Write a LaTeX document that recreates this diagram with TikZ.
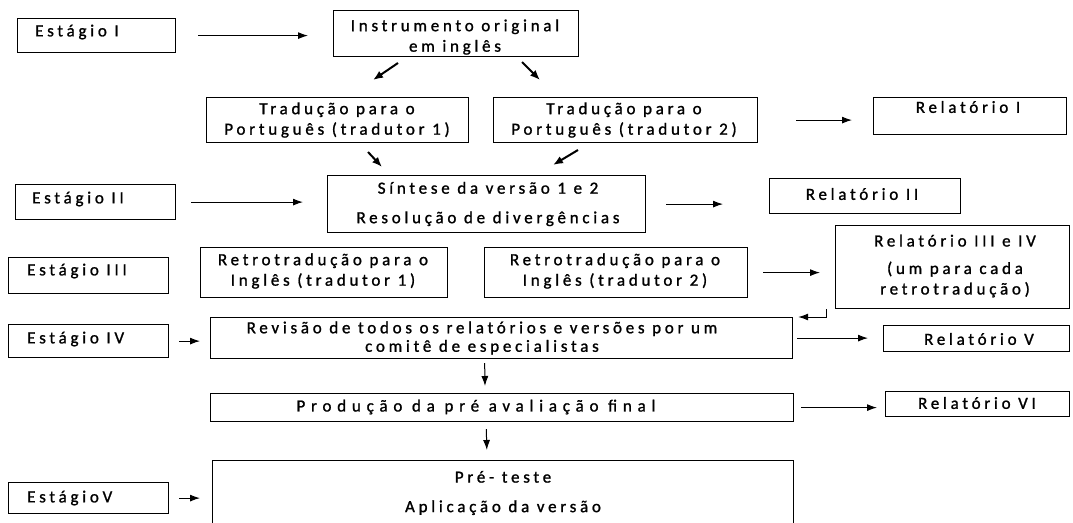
\documentclass[tikz,border=0pt]{standalone}
\usepackage{fontspec}
\setmainfont{Carlito}[LetterSpace=22,FakeBold=1.2]
\usetikzlibrary{arrows.meta}
\begin{document}
\begin{tikzpicture}[x=1pt,y=-1pt,
  box/.style={draw, line width=1.2pt, inner sep=0pt, anchor=north west},
  txt/.style={inner sep=0pt, font=\fontsize{17}{20.5}\selectfont, align=center},
  stg/.style={txt, anchor=west},
  arr/.style={-{Latex[length=10pt,width=7pt]}, line width=1pt},
  darr/.style={-{Latex[length=10pt,width=8pt]}, line width=2pt}]
\clip (0,0) rectangle (1073,522);
% boxes
\node[box, minimum width=158pt, minimum height=34pt] (s1) at (17,18) {};
\node[box, minimum width=245pt, minimum height=46pt] (inst) at (333,10) {};
\node[box, minimum width=262pt, minimum height=45pt] (t1) at (206,97) {};
\node[box, minimum width=264pt, minimum height=45pt] (t2) at (493,97) {};
\node[box, minimum width=193pt, minimum height=37pt] (r1) at (873,97) {};
\node[box, minimum width=160pt, minimum height=35pt] (s2) at (15,184) {};
\node[box, minimum width=318pt, minimum height=57pt] (sin) at (327,175) {};
\node[box, minimum width=191pt, minimum height=35pt] (r2) at (769,178) {};
\node[box, minimum width=160pt, minimum height=36pt] (s3) at (8,257) {};
\node[box, minimum width=247pt, minimum height=50pt] (b1) at (200,247) {};
\node[box, minimum width=263pt, minimum height=50pt] (b2) at (484,247) {};
\node[box, minimum width=234pt, minimum height=83pt] (r34) at (835,225) {};
\node[box, minimum width=160pt, minimum height=33pt] (s4) at (8,324) {};
\node[box, minimum width=582pt, minimum height=41pt] (rev) at (210,317) {};
\node[box, minimum width=186pt, minimum height=26pt] (r5) at (883,325) {};
\node[box, minimum width=583pt, minimum height=28pt] (prod) at (210,393) {};
\node[box, minimum width=184pt, minimum height=25pt] (r6) at (885,391) {};
\node[box, minimum width=581pt, minimum height=70pt] (pre) at (212,460) {};
\node[box, minimum width=160pt, minimum height=31pt] (s5) at (8,482) {};
% texts
\node[stg] (s1t) at (35,32) {Estágio I};
\node[txt] (instt) at (455,37) {Instrumento original\\em inglês};
\node[txt] (t1t) at (337,120) {Tradução para o\\Português (tradutor 1)};
\node[txt] (t2t) at (624,120) {Tradução para o\\Português (tradutor 2)};
\node[txt] (r1t) at (968,107) {Relatório I};
\node[stg] (s2t) at (32,199) {Estágio II};
\node[txt] (sint) at (488,204) {Síntese da versão 1 e 2\\[9pt]Resolução de divergências};
\node[txt] (r2t) at (862,194) {Relatório II};
\node[stg] (s3t) at (27,271) {Estágio III};
\node[txt] (b1t) at (323,271) {Retrotradução para o\\Inglês (tradutor 1)};
\node[txt] (b2t) at (615,271) {Retrotradução para o\\Inglês (tradutor 2)};
\node[txt] (r34t) at (955,266) {Relatório III e IV\\[7pt](um para cada\\retrotradução)};
\node[stg] (s4t) at (27,339) {Estágio IV};
\node[txt] (revt) at (482,338) {Revisão de todos os relatórios e versões por um\\[-2pt]comitê de especialistas};
\node[txt] (r5t) at (979,339) {Relatório V};
\node[txt, font=\fontsize{17}{20.5}\selectfont\addfontfeatures{LetterSpace=34}] (prodt) at (476,407) {Produção da pré avaliação final};
\node[txt] (r6t) at (977,403) {Relatório VI};
\node[stg] (s5t) at (27,498) {EstágioV};
\node[txt] (pret) at (503,493) {Pré- teste\\[9pt]Aplicação da versão};
% horizontal arrows
\draw[arr, shorten <=22pt, shorten >=25pt] (s1.east) -- (s1.east -| inst.west);
\draw[arr, shorten <=15pt, shorten >=24pt] (s2.east) -- (s2.east -| sin.west);
\draw[arr, shorten <=38pt, shorten >=21pt] (t2.east) -- (t2.east -| r1.west);
\draw[arr, shorten <=20pt, shorten >=46pt] (sin.east) -- (sin.east -| r2.west);
\draw[arr, shorten <=15pt, shorten >=15pt] (b2.east) -- (b2.east -| r34.west);
\draw[arr, shorten <=10pt, shorten >=10pt] (s4.east) -- (s4.east -| rev.west);
\draw[arr, shorten <=4pt, shorten >=15pt] (rev.east) -- (rev.east -| r5.west);
\draw[arr, shorten <=7pt, shorten >=8pt] (prod.east) -- (prod.east -| r6.west);
\draw[arr, shorten <=10pt, shorten >=12pt] (s5.east) -- (s5.east -| pre.west);
% vertical arrows
\draw[arr, shorten <=4pt, shorten >=7pt] ([xshift=-17pt]rev.south) -- ([xshift=-17pt]prod.north);
\draw[arr, shorten <=7pt, shorten >=10pt] ([xshift=-16pt]prod.south) -- ([xshift=-16pt]pre.north);
% elbow
\draw[arr, shorten >=5pt] ([xshift=-9pt]r34.south west) |- (rev.north east);
% diagonal arrows
\coordinate (d1a) at (398,63); \coordinate (d1b) at (373,80);
\coordinate (d2a) at (522,62); \coordinate (d2b) at (540,80);
\coordinate (d3a) at (368,152); \coordinate (d3b) at (382,167);
\coordinate (d4a) at (578,150); \coordinate (d4b) at (553,165);
\draw[darr] (d1a) -- (d1b);
\draw[darr] (d2a) -- (d2b);
\draw[darr] (d3a) -- (d3b);
\draw[darr] (d4a) -- (d4b);
\end{tikzpicture}
\end{document}
